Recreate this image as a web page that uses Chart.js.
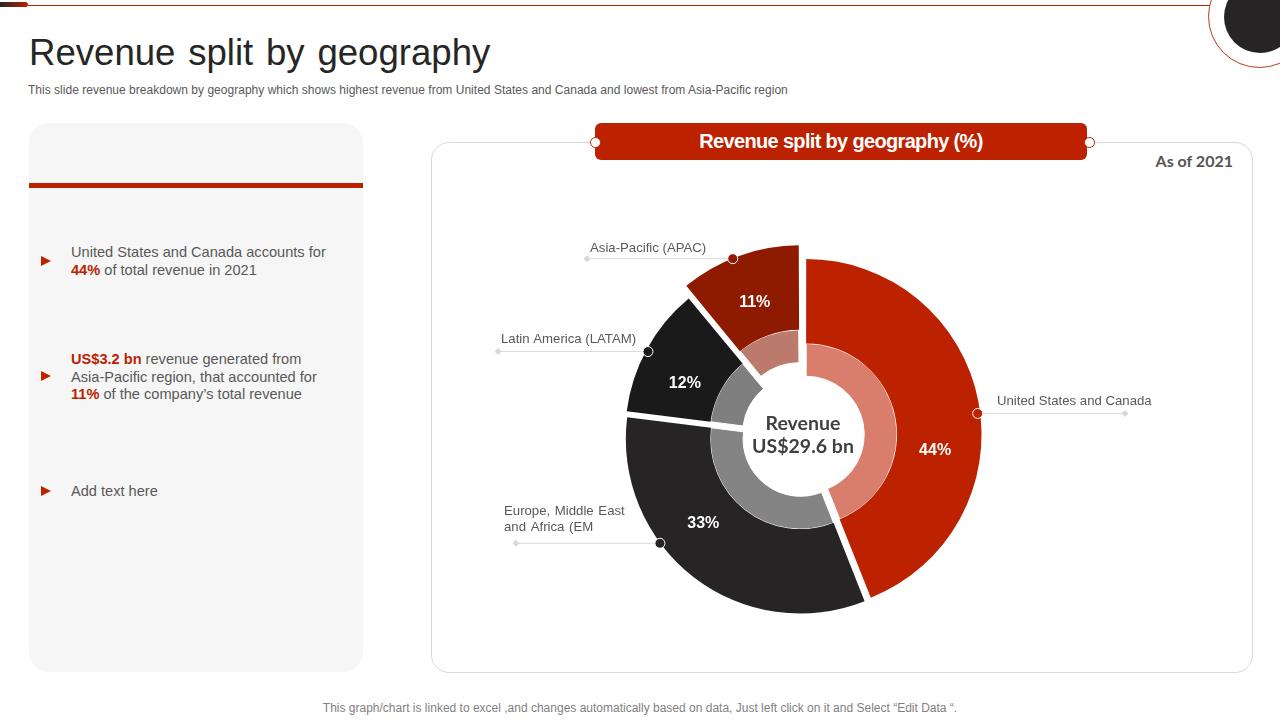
<!DOCTYPE html>
<html>
<head>
<meta charset="utf-8">
<title>Revenue split by geography</title>
<script src="https://cdn.jsdelivr.net/npm/chart.js@4/dist/chart.umd.min.js"></script>
<style>
html, body { margin: 0; padding: 0; background: #fff; }
body { width: 1280px; height: 720px; overflow: hidden; position: relative; font-family: "Liberation Sans", Arial, sans-serif; }
.abs { position: absolute; }
#topline { left: 28px; top: 5px; width: 1182px; height: 1px; background: #bc2200; }
#toppill { left: 0; top: 2px; width: 28px; height: 5px; border-radius: 0 3px 3px 0; background: linear-gradient(90deg, #262425, #bc2200); }
#ringOuter { left: 1208px; top: -35px; width: 103px; height: 103px; border: 1px solid #bc3a20; border-radius: 50%; box-sizing: border-box; background: #fff; }
#ringInner { left: 1224px; top: -19px; width: 72px; height: 72px; border-radius: 50%; background: #262425; }
#title { left: 29px; top: 32px; font-size: 36.6px; line-height: 42px; color: #262626; word-spacing: 2.6px; white-space: nowrap; }
#sub { left: 28px; top: 83px; font-size: 12px; line-height: 15px; color: #595959; white-space: nowrap; letter-spacing: 0.02px; }
#side { left: 29px; top: 123px; width: 334px; height: 549px; border-radius: 20px; background: #f6f6f6; }
#sidebar { left: 29px; top: 183px; width: 334px; height: 5px; background: #bc2200; }
.tri { left: 41px; width: 0; height: 0; border-left: 10px solid #bc2200; border-top: 5.5px solid transparent; border-bottom: 5.5px solid transparent; }
.note { left: 71px; font-size: 14.6px; line-height: 17.7px; color: #595959; white-space: nowrap; }
.note b { color: #bc2200; }
#panel { left: 431px; top: 142px; width: 822px; height: 531px; box-sizing: border-box; border: 1px solid #d9d9d9; border-radius: 18px; background: #fff; }
#head { left: 595px; top: 123px; width: 492px; height: 37px; border-radius: 6px; background: #bc2200; color: #fff; font-weight: bold; font-size: 20px; line-height: 37px; text-align: center; letter-spacing: -0.67px; }
.knob { top: 137px; width: 11px; height: 11px; box-sizing: border-box; border: 1px solid #bc2200; border-radius: 50%; background: #fff; }
#asof { right: 47px; top: 151px; font-family: Lato, sans-serif; font-weight: bold; font-size: 16px; line-height: 19px; color: #555; }
#foot { left: 0; width: 1280px; top: 701px; text-align: center; font-size: 12px; line-height: 15px; color: #7f7f7f; }
#centre { left: 723px; width: 160px; top: 411px; text-align: center; font-family: Lato, sans-serif; font-weight: bold; font-size: 19.5px; line-height: 23px; color: #404040; }
canvas { position: absolute; left: 0; top: 0; }
</style>
</head>
<body>
<div class="abs" id="topline"></div>
<div class="abs" id="toppill"></div>
<div class="abs" id="ringOuter"></div>
<div class="abs" id="ringInner"></div>
<div class="abs" id="title">Revenue split by geography</div>
<div class="abs" id="sub">This slide revenue breakdown by geography which shows highest revenue from United States and Canada and lowest from Asia-Pacific region</div>

<div class="abs" id="side"></div>
<div class="abs" id="sidebar"></div>
<div class="abs tri" style="top:256px"></div>
<div class="abs note" style="top:244px">United States and Canada accounts for<br><b>44%</b> of total revenue in 2021</div>
<div class="abs tri" style="top:371px"></div>
<div class="abs note" style="top:351px"><b>US$3.2 bn</b> revenue generated from<br>Asia-Pacific region, that accounted for<br><b>11%</b> of the company’s total revenue</div>
<div class="abs tri" style="top:486px"></div>
<div class="abs note" style="top:483px">Add text here</div>

<div class="abs" id="panel"></div>
<div class="abs" id="head">Revenue split by geography (%)</div>
<div class="abs knob" style="left:590px"></div>
<div class="abs knob" style="left:1084px"></div>
<div class="abs" id="asof">As of 2021</div>
<div class="abs" id="foot">This graph/chart is linked to excel ,and changes automatically based on data, Just left click on it and Select “Edit Data “.</div>

<canvas id="myChart" width="1280" height="720"></canvas>
<div class="abs" id="centre">Revenue<br>US$29.6 bn</div>

<script>
var categories = ["United States and Canada", "Europe, Middle East\nand Africa (EM", "Latin America (LATAM)", "Asia-Pacific (APAC)"];
var shares = [44, 33, 12, 11];
var outerColors = ["#bc2200", "#262425", "#1a1a1a", "#8e1b00"];
var innerColors = ["#d97e6c", "#848484", "#7f7f7f", "#bc7a6c"];
var sliceOffsets = [10, 20, 14, 48];

// hand placed on the slide, degrees clockwise from 12 o'clock
var percentAngles = [96.6, 229.4, 293.5, 339.9];
var percentRadii = [130, 128, 126, 130];
var dotAngles = [83, 233.4, 298.2, 338];
var dotRadii = [173, 175, 173, 178];
var lineEndX = [1125, 516, 498, 587];
var labelX = [997, 504, 501, 590];
var labelRise = [12.5, 15.5, 12.5, 10.5];

function polar(arc, deg, r) {
    var p = arc.getProps(["x", "y", "startAngle", "endAngle"], true);
    var mid = (p.startAngle + p.endAngle) / 2;
    var off = (arc.options.offset || 0) / 4;
    var a = (deg - 90) * Math.PI / 180;
    return {
        x: p.x + Math.cos(mid) * off + Math.cos(a) * r,
        y: p.y + Math.sin(mid) * off + Math.sin(a) * r
    };
}

var calloutPlugin = {
    id: "callouts",
    afterDatasetsDraw: function (chart) {
        var ctx = chart.ctx;
        var arcs = chart.getDatasetMeta(0).data;
        ctx.save();
        arcs.forEach(function (arc, i) {
            // percent label inside the slice
            var t = polar(arc, percentAngles[i], percentRadii[i]);
            ctx.font = "bold 16px 'Liberation Sans'";
            ctx.fillStyle = "#fff";
            ctx.textAlign = "center";
            ctx.textBaseline = "middle";
            ctx.fillText(shares[i] + "%", t.x, t.y + 1);

            // leader line with dot and diamond
            var d = polar(arc, dotAngles[i], dotRadii[i]);
            ctx.strokeStyle = "#d9d9d9";
            ctx.lineWidth = 1;
            ctx.beginPath();
            ctx.moveTo(d.x, d.y);
            ctx.lineTo(lineEndX[i], d.y);
            ctx.stroke();

            ctx.fillStyle = "#d9d9d9";
            ctx.beginPath();
            ctx.moveTo(lineEndX[i] - 3.5, d.y);
            ctx.lineTo(lineEndX[i], d.y - 3.5);
            ctx.lineTo(lineEndX[i] + 3.5, d.y);
            ctx.lineTo(lineEndX[i], d.y + 3.5);
            ctx.closePath();
            ctx.fill();

            ctx.fillStyle = outerColors[i];
            ctx.strokeStyle = "#fff";
            ctx.beginPath();
            ctx.arc(d.x, d.y, 5, 0, Math.PI * 2);
            ctx.fill();
            ctx.stroke();

            // category label above the line
            var lines = categories[i].split("\n");
            ctx.font = "13.2px 'Liberation Sans'";
            ctx.fillStyle = "#595959";
            ctx.textAlign = "left";
            ctx.wordSpacing = lines.length > 1 ? "1px" : "0px";
            lines.forEach(function (line, k) {
                ctx.fillText(line, labelX[i], d.y - labelRise[i] - (lines.length - 1 - k) * 16);
            });
            ctx.wordSpacing = "0px";
        });
        ctx.restore();
    }
};

new Chart("myChart", {
    type: "doughnut",
    data: {
        labels: categories,
        datasets: [
            { data: shares, backgroundColor: outerColors, borderWidth: 0, offset: sliceOffsets, weight: 85 },
            { data: shares, backgroundColor: innerColors, borderColor: "#fff", borderWidth: 1, offset: sliceOffsets, weight: 33 }
        ]
    },
    options: {
        responsive: false,
        animation: false,
        cutout: "32.6%",
        layout: { padding: { left: 605.5, right: 278.5, top: 237, bottom: 87 } },
        plugins: { legend: { display: false }, tooltip: { enabled: false } }
    },
    plugins: [calloutPlugin]
});
</script>
</body>
</html>
